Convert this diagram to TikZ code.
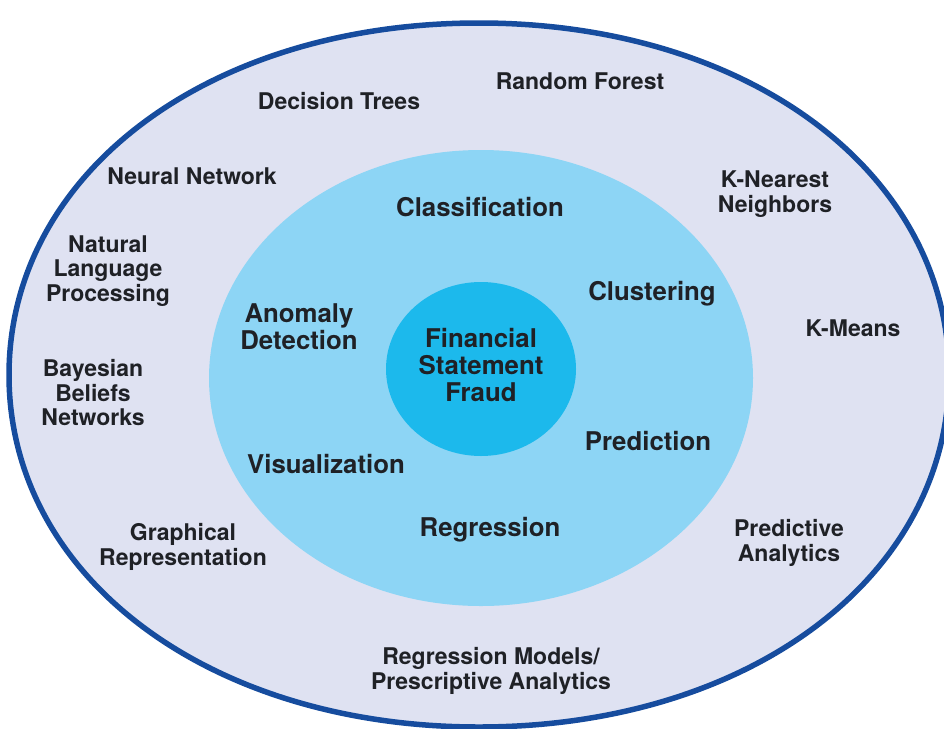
\documentclass[tikz,border=0pt]{standalone}
\usepackage{fontspec}
\setmainfont{TeX Gyre Heros}
\definecolor{ringline}{HTML}{164C9E}
\definecolor{outerfill}{HTML}{DFE2F2}
\definecolor{innerfill}{HTML}{8DD5F5}
\definecolor{corefill}{HTML}{1CB9EC}
\definecolor{labeltext}{HTML}{1F2126}
\begin{document}
\begin{tikzpicture}[x=1pt,y=-1pt,
  outerlabel/.style={align=center,text=labeltext,font=\bfseries\fontsize{23}{24.5}\selectfont,inner sep=0pt},
  innerlabel/.style={align=center,text=labeltext,font=\bfseries\fontsize{25.8}{26.7}\selectfont,inner sep=0pt}]
\useasboundingbox (0,0) rectangle (944,728);
% outer ring: a slightly squared oval
\draw[line width=5.5pt,draw=ringline,fill=outerfill]
  (479,23) .. controls (209,23) and (9,173) .. (9,375)
  .. controls (9,577) and (209,727) .. (479,727)
  .. controls (749,727) and (949,577) .. (949,375)
  .. controls (949,173) and (749,23) .. (479,23) -- cycle;
% task region and centre
\fill[innerfill] (481,378) ellipse [x radius=272,y radius=228];
\fill[corefill] (481,369) ellipse [x radius=95,y radius=87];
% centre
\node[innerlabel] (core) at (481,365) {Financial\\Statement\\Fraud};
% tasks
\node[innerlabel] (classification) at (480,207) {Classification};
\node[innerlabel] (clustering) at (652,294) {Clustering};
\node[innerlabel] (anomaly) at (299,327) {Anomaly\\Detection};
\node[innerlabel] (prediction) at (648,441) {Prediction};
\node[innerlabel] (visualization) at (326,464) {Visualization};
\node[innerlabel] (regression) at (490,530) {Regression};
% techniques
\node[outerlabel] (dtrees) at (339,101) {Decision Trees};
\node[outerlabel] (rforest) at (580,81) {Random Forest};
\node[outerlabel] (nnet) at (192,176) {Neural Network};
\node[outerlabel] (knn) at (775,194) {K-Nearest\\Neighbors};
\node[outerlabel] (nlp) at (108,271) {Natural\\Language\\Processing};
\node[outerlabel] (kmeans) at (853,328) {K-Means};
\node[outerlabel] (bayes) at (93,393) {Bayesian\\Beliefs\\Networks};
\node[outerlabel] (graphrep) at (183,547) {Graphical\\Representation};
\node[outerlabel] (predan) at (789,543) {Predictive\\Analytics};
\node[outerlabel] (regmodels) at (491,671) {Regression Models/\\Prescriptive Analytics};
\end{tikzpicture}
\end{document}
